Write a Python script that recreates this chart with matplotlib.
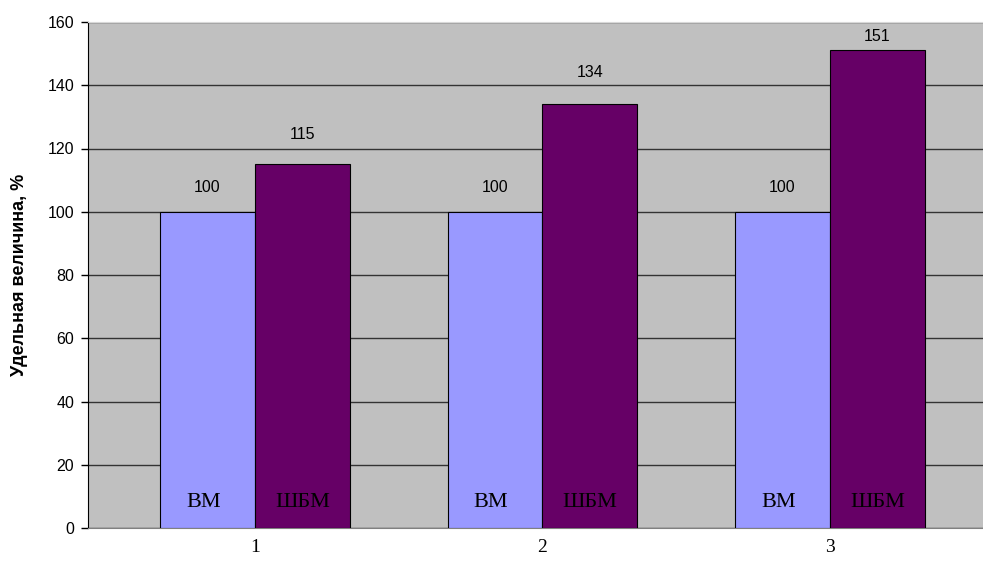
import matplotlib
matplotlib.use("Agg")
import matplotlib.pyplot as plt
import numpy as np

groups = ["1", "2", "3"]
vm = [100, 100, 100]
shbm = [115, 134, 151]
vm_name = "ВМ"
shbm_name = "ШБМ"
yticks = [0, 20, 40, 60, 80, 100, 120, 140, 160]

plt.rcParams['font.family'] = ['Liberation Sans', 'DejaVu Sans']

fig = plt.figure(figsize=(9.83, 5.61), dpi=100)
ax = fig.add_axes([88/983, 33/561, 895/983, 506/561])
ax.set_facecolor("#C0C0C0")

x = np.arange(len(groups))
w = 0.33
b1 = ax.bar(x - w/2, vm, w, color="#9999FF", edgecolor="black", linewidth=0.8, zorder=3)
b2 = ax.bar(x + w/2, shbm, w, color="#660066", edgecolor="black", linewidth=0.8, zorder=3)

# value labels (offsets in pixels, as placed in the original)
off1 = [24, 24, 24]
off2 = [30, 32, 14]
for i in range(len(groups)):
    ax.annotate(str(vm[i]), (x[i] - w/2, vm[i]), xytext=(0, off1[i]*0.72),
                textcoords="offset points", ha="center", va="center", fontsize=11.5)
    ax.annotate(str(shbm[i]), (x[i] + w/2, shbm[i]), xytext=(0, off2[i]*0.72),
                textcoords="offset points", ha="center", va="center", fontsize=11.5)
    ax.text(x[i] - w/2 - 0.015, 8, vm_name, ha="center", va="center",
            family="Liberation Serif", fontsize=16, zorder=4)
    ax.text(x[i] + w/2, 8, shbm_name, ha="center", va="center",
            family="Liberation Serif", fontsize=16, zorder=4)

ax.set_ylim(0, 160)
ax.set_xlim((88-255)/287.5, (983-255)/287.5)
ax.set_yticks(yticks)
ax.yaxis.grid(True, color="#333333", linewidth=1.0, zorder=1)
ax.set_axisbelow(True)
ax.tick_params(axis="y", direction="out", length=5, width=1, labelsize=11.5, pad=5)
ax.tick_params(axis="x", length=0, pad=8)
ax.set_xticks(x)
ax.set_xticklabels(groups, family="Liberation Serif", fontsize=14)
ax.set_ylabel("Удельная величина, %", fontsize=13, fontweight="bold", labelpad=14)

ax.spines["left"].set_color("black")
ax.spines["bottom"].set_color("#808080")
ax.spines["top"].set_color("#D8D8D8")
ax.spines["right"].set_visible(False)

fig.savefig("out.png", dpi=100)
